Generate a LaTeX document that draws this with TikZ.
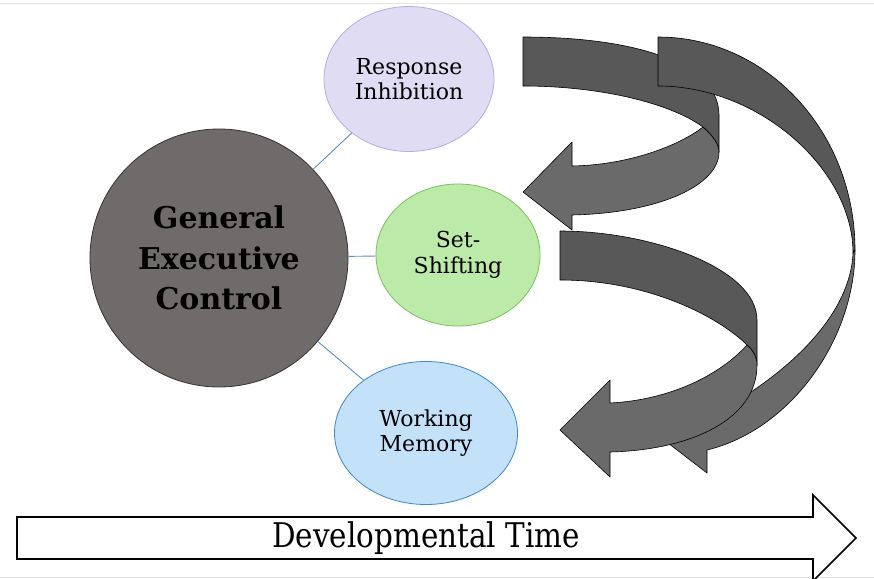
\documentclass[tikz,border=0pt]{standalone}
\usepackage{fontspec}
\setmainfont{DejaVu Serif}
\usepackage{graphicx}
\usetikzlibrary{shapes.geometric}

\definecolor{gecfill}{HTML}{6F6B6A}
\definecolor{rifill}{HTML}{DFDCF3}
\definecolor{riline}{HTML}{B4AEE2}
\definecolor{ssfill}{HTML}{BCEAA8}
\definecolor{ssline}{HTML}{7DBE5E}
\definecolor{wmfill}{HTML}{C4E1FA}
\definecolor{wmline}{HTML}{3F86C6}
\definecolor{linkblue}{HTML}{5B8FC7}
\definecolor{ribfront}{HTML}{585858}
\definecolor{ribback}{HTML}{6A6A6A}
\definecolor{edgegray}{HTML}{E4E4E4}

\begin{document}
\begin{tikzpicture}[x=1pt,y=-1pt,
  skill/.style={ellipse, draw, line width=0.8pt, inner sep=0pt, align=center,
    font=\fontsize{22}{25.5}\selectfont},
  link/.style={draw=linkblue, line width=0.9pt},
  ribbon/.style={draw=black, line width=0.6pt, line join=round},
  front/.style={ribbon, fill=ribfront},
  back/.style={ribbon, fill=ribback}]

\useasboundingbox (0,0) rectangle (874,578);
\fill[white] (0,0) rectangle (874,578);
\draw[edgegray, line width=0.6pt] (0,3) -- (874,3);
\draw[edgegray, line width=0.6pt] (0,577) -- (874,577);

% central construct
\node[circle, draw=black!80, line width=0.8pt, fill=gecfill, minimum size=258pt,
      inner sep=0pt, align=center, font=\bfseries\fontsize{30}{40.5}\selectfont]
  (gec) at (219,258) {General\\Executive\\Control};

% component skills
\node[skill, draw=riline, fill=rifill, minimum width=170pt, minimum height=145pt]
  (ri) at (409,79) {Response\\Inhibition};
\node[skill, draw=ssline, fill=ssfill, minimum width=164pt, minimum height=142pt]
  (ss) at (458,255) {Set-\\Shifting};
\node[skill, draw=wmline, fill=wmfill, minimum width=183pt, minimum height=143pt]
  (wm) at (426,433) {Working\\Memory};

\draw[link] (gec) -- (ri);
\draw[link] (gec) -- (ss);
\draw[link] (gec) -- (wm);

% upper twisted arrow, returning to the middle row
\path[front] (523,37) .. controls (640,37) and (719,65) .. (719,115) -- (719,152)
  .. controls (719,145) and (714,137) .. (703,127)
  .. controls (670,103) and (600,86) .. (523,86) -- cycle;
\path[back] (703,127) .. controls (680,145) and (630,165) .. (572,166)
  -- (572,142) -- (523,192) -- (572,230) -- (572,215)
  .. controls (660,213) and (719,185) .. (719,152)
  .. controls (719,145) and (714,137) .. (703,127) -- cycle;

% long outer arrow, returning to the bottom row
\path[front] (658,37) .. controls (767,37) and (855,132) .. (855,250)
  -- (853,253) .. controls (853,170) and (760,86) .. (658,86) -- cycle;
\path[back] (855,250) .. controls (855,340) and (790,430) .. (707,450)
  -- (707,473) -- (668,443) -- (707,400) -- (707,418)
  .. controls (780,380) and (850,320) .. (853,253) -- cycle;

% middle twisted arrow, returning to the bottom row
\path[front] (560,231) .. controls (650,231) and (757,268) .. (757,320) -- (757,365)
  .. controls (757,357) and (753,350) .. (747,345)
  .. controls (720,318) and (650,280) .. (560,280) -- cycle;
\path[back] (747,345) .. controls (720,375) and (670,400) .. (610,403)
  -- (610,380) -- (560,430) -- (610,477) -- (610,452)
  .. controls (690,450) and (757,420) .. (757,365)
  .. controls (757,357) and (753,350) .. (747,345) -- cycle;

% time axis
\path[draw=black, line width=1.6pt, fill=white, line join=miter]
  (17,517) -- (813,517) -- (813,495) -- (856,538) -- (813,581) -- (813,559)
  -- (17,559) -- cycle;
\node[inner sep=0pt, font=\fontsize{34}{36}\selectfont] (time) at (426,538)
  {\scalebox{0.865}[1]{Developmental Time}};

\end{tikzpicture}
\end{document}
